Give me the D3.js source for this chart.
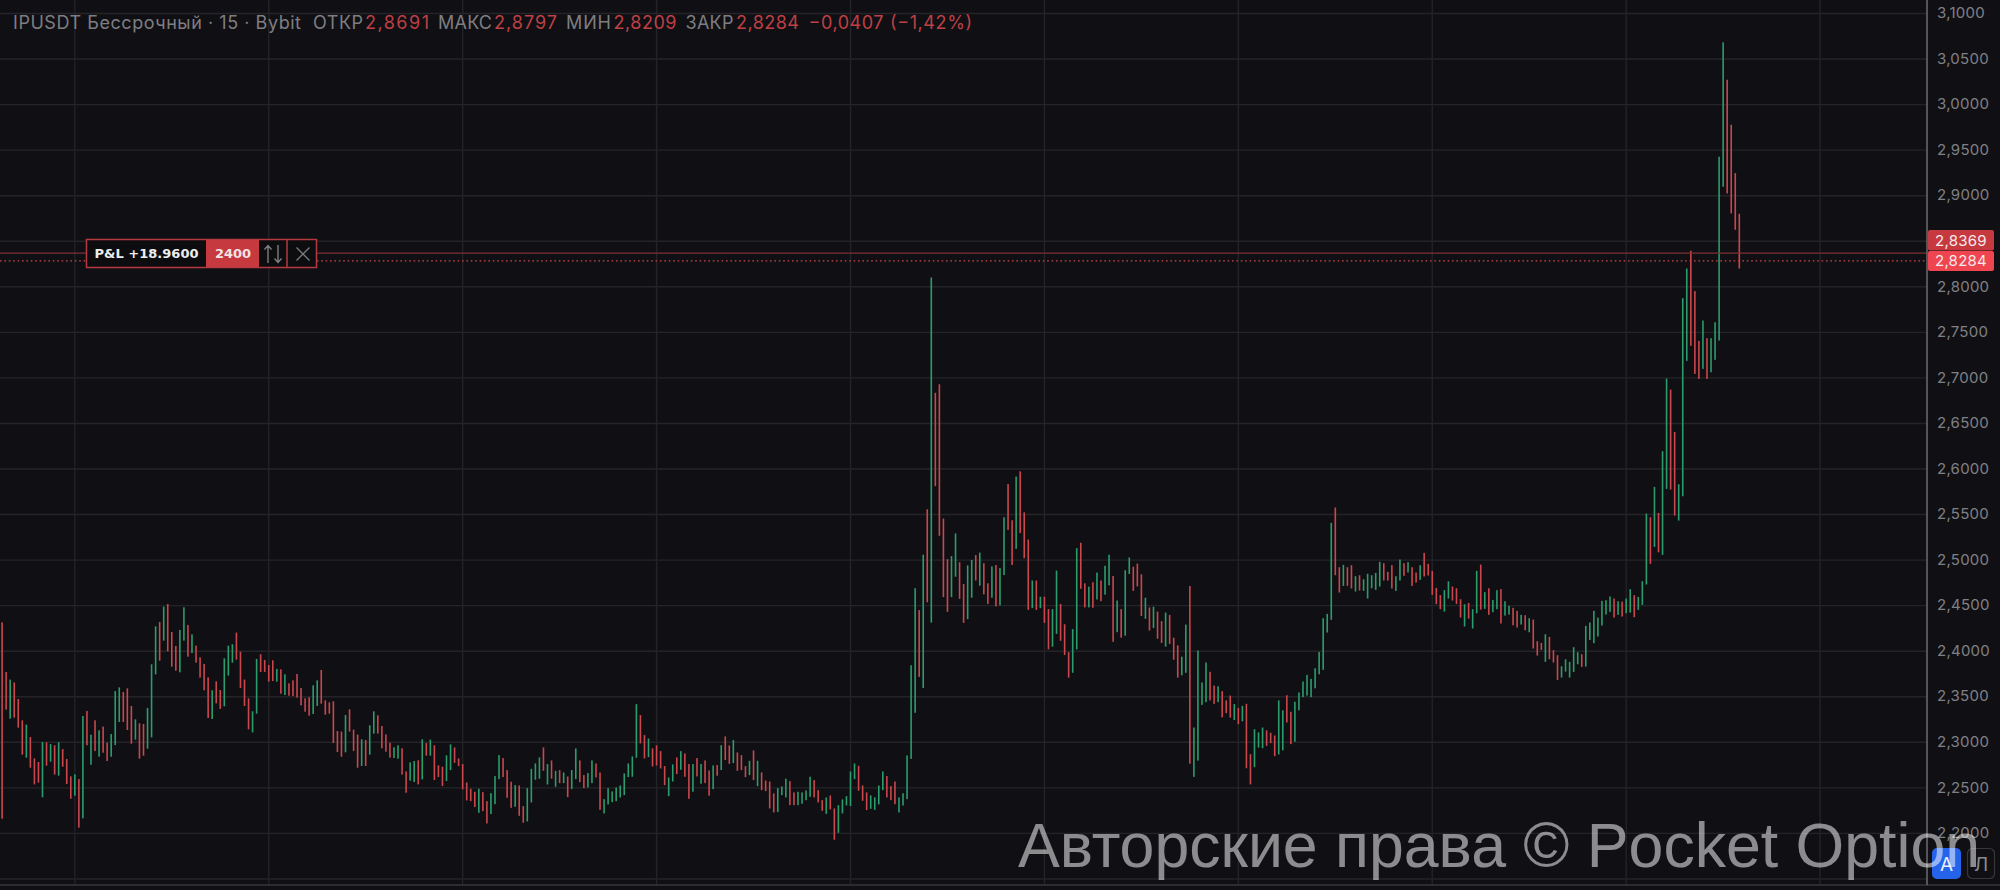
<!DOCTYPE html>
<html><head><meta charset="utf-8">
<style>html,body{margin:0;padding:0;background:#101014;overflow:hidden}svg{display:block}</style>
<script src="https://cdn.jsdelivr.net/npm/d3@7"></script></head>
<body><svg id="c" width="2000" height="890"></svg>
<script>
const highs=[
2.4317,2.3772,2.3688,2.3658,2.3475,2.3241,2.3194,2.3058,2.2824,2.2784,
2.3003,2.3000,2.2981,2.2967,2.3000,2.2926,2.2817,2.2626,2.2648,2.2597,
2.3289,2.3344,2.3084,2.3241,2.3131,2.3172,2.2996,2.3091,2.3563,2.3603,
2.3552,2.3592,2.3399,2.3252,2.3208,2.3201,2.3377,2.3856,2.4273,2.4321,
2.4489,2.4518,2.4211,2.4057,2.4233,2.4482,2.4288,2.4185,2.4061,2.3933,
2.3860,2.3713,2.3571,2.3669,2.3574,2.3922,2.4061,2.4076,2.4204,2.3995,
2.3688,2.3483,2.3340,2.3915,2.3966,2.3904,2.3849,2.3900,2.3805,2.3801,
2.3746,2.3647,2.3680,2.3750,2.3596,2.3483,2.3494,2.3625,2.3680,2.3794,
2.3461,2.3439,2.3450,2.3124,2.3117,2.3300,2.3362,2.3139,2.3084,2.3033,
2.3025,2.3186,2.3340,2.3296,2.3179,2.3087,2.2996,2.2945,2.2967,2.2934,
2.2681,2.2780,2.2795,2.2802,2.3033,2.2992,2.3029,2.2967,2.2747,2.2732,
2.2857,2.2977,2.2944,2.2823,2.2761,2.2559,2.2490,2.2457,2.2490,2.2453,
2.2354,2.2442,2.2629,2.2859,2.2827,2.2695,2.2567,2.2530,2.2526,2.2300,
2.2497,2.2709,2.2768,2.2834,2.2944,2.2761,2.2801,2.2687,2.2695,2.2669,
2.2625,2.2695,2.2933,2.2801,2.2640,2.2662,2.2801,2.2768,2.2669,2.2376,
2.2497,2.2461,2.2504,2.2526,2.2658,2.2768,2.2845,2.3419,2.3299,2.3079,
2.3042,2.2933,2.2966,2.2903,2.2739,2.2614,2.2757,2.2834,2.2903,2.2878,
2.2761,2.2761,2.2827,2.2761,2.2801,2.2691,2.2746,2.2750,2.2969,2.3064,
2.2966,2.3024,2.2889,2.2859,2.2739,2.2797,2.2911,2.2797,2.2669,2.2581,
2.2570,2.2439,2.2497,2.2515,2.2600,2.2574,2.2450,2.2457,2.2450,2.2472,
2.2622,2.2585,2.2475,2.2365,2.2395,2.2417,2.2274,2.2310,2.2373,2.2409,
2.2680,2.2768,2.2742,2.2526,2.2450,2.2417,2.2395,2.2526,2.2680,2.2629,
2.2519,2.2570,2.2395,2.2441,2.2855,2.3846,2.4692,2.4451,2.5059,2.5558,
2.8102,2.6836,2.6930,2.5456,2.5010,2.5044,2.5293,2.4976,2.4738,2.4942,
2.5002,2.5055,2.5082,2.4965,2.4745,2.4931,2.4946,2.4912,2.5471,2.5834,
2.5437,2.5917,2.5974,2.5524,2.5225,2.4776,2.4776,2.4598,2.4598,2.4462,
2.4462,2.4885,2.4519,2.4296,2.3989,2.4243,2.5131,2.5191,2.4745,2.4708,
2.4757,2.4863,2.4776,2.4938,2.5059,2.4825,2.4556,2.4462,2.4889,2.5029,
2.4927,2.4961,2.4844,2.4587,2.4481,2.4488,2.4435,2.4330,2.4424,2.4398,
2.4148,2.4065,2.3940,2.4292,2.4715,2.3162,2.4008,2.3657,2.3876,2.3774,
2.3623,2.3615,2.3562,2.3460,2.3513,2.3419,2.3377,2.3400,2.3422,2.2870,
2.3143,2.3109,2.3162,2.3131,2.3105,2.3075,2.3460,2.3351,2.3517,2.3335,
2.3445,2.3547,2.3667,2.3740,2.3696,2.3813,2.3992,2.4362,2.4410,2.5409,
2.5577,2.4922,2.4948,2.4922,2.4944,2.4823,2.4834,2.4790,2.4849,2.4834,
2.4860,2.4981,2.4966,2.4871,2.4944,2.4823,2.5006,2.4966,2.4977,2.4922,
2.4864,2.4944,2.5079,2.4959,2.4882,2.4695,2.4615,2.4670,2.4768,2.4710,
2.4691,2.4571,2.4516,2.4530,2.4461,2.4882,2.4951,2.4648,2.4691,2.4563,
2.4670,2.4681,2.4549,2.4498,2.4476,2.4443,2.4399,2.4395,2.4362,2.4347,
2.4110,2.4091,2.4186,2.4157,2.4011,2.3956,2.3835,2.3912,2.3883,2.4044,
2.3989,2.3967,2.4278,2.4315,2.4443,2.4369,2.4552,2.4560,2.4600,2.4578,
2.4549,2.4545,2.4578,2.4681,2.4615,2.4596,2.4768,2.5511,2.5470,2.5803,
2.5518,2.6195,2.6993,2.6872,2.6407,2.5833,2.7875,2.8201,2.8396,2.7953,
2.7406,2.7630,2.7436,2.7436,2.7611,2.9428,3.0683,3.0273,2.9779,2.9248,
2.8802];
const lows=[
2.2161,2.3358,2.3259,2.3270,2.3161,2.2864,2.2831,2.2721,2.2538,2.2557,
2.2396,2.2743,2.2787,2.2645,2.2634,2.2732,2.2542,2.2381,2.2414,2.2063,
2.2165,2.2967,2.2754,2.2904,2.2842,2.2886,2.2795,2.2842,2.2970,2.3223,
2.3223,2.3135,2.2985,2.3029,2.2820,2.2853,2.2930,2.3054,2.3746,2.3896,
2.4116,2.3999,2.3830,2.3786,2.3768,2.4116,2.3940,2.3980,2.3874,2.3710,
2.3571,2.3267,2.3256,2.3428,2.3366,2.3395,2.3732,2.3874,2.3907,2.3596,
2.3399,2.3142,2.3109,2.3314,2.3772,2.3772,2.3666,2.3673,2.3666,2.3534,
2.3519,2.3512,2.3508,2.3490,2.3406,2.3336,2.3292,2.3311,2.3399,2.3424,
2.3303,2.3314,2.2992,2.2893,2.2842,2.2890,2.3117,2.2904,2.2721,2.2740,
2.2740,2.2864,2.3095,2.3095,2.2934,2.2897,2.2831,2.2828,2.2820,2.2645,
2.2447,2.2579,2.2564,2.2538,2.2593,2.2853,2.2853,2.2586,2.2619,2.2520,
2.2575,2.2695,2.2775,2.2739,2.2483,2.2362,2.2354,2.2289,2.2226,2.2245,
2.2109,2.2212,2.2321,2.2596,2.2618,2.2391,2.2281,2.2292,2.2193,2.2117,
2.2131,2.2340,2.2589,2.2600,2.2687,2.2537,2.2600,2.2512,2.2552,2.2552,
2.2398,2.2486,2.2596,2.2563,2.2497,2.2504,2.2552,2.2614,2.2259,2.2219,
2.2318,2.2343,2.2354,2.2395,2.2420,2.2618,2.2622,2.2830,2.2988,2.2823,
2.2838,2.2735,2.2746,2.2713,2.2530,2.2409,2.2570,2.2651,2.2698,2.2622,
2.2380,2.2457,2.2625,2.2545,2.2552,2.2413,2.2486,2.2633,2.2695,2.2805,
2.2764,2.2772,2.2687,2.2695,2.2618,2.2640,2.2585,2.2519,2.2475,2.2464,
2.2274,2.2230,2.2234,2.2420,2.2395,2.2310,2.2310,2.2310,2.2325,2.2365,
2.2402,2.2395,2.2340,2.2248,2.2215,2.2263,2.1930,2.2007,2.2219,2.2307,
2.2300,2.2596,2.2468,2.2358,2.2256,2.2270,2.2259,2.2318,2.2475,2.2395,
2.2365,2.2321,2.2230,2.2306,2.2376,2.2818,2.3324,2.3717,2.3596,2.4537,
2.4314,2.5811,2.5267,2.4594,2.4432,2.4594,2.4817,2.4575,2.4311,2.4352,
2.4587,2.4776,2.4719,2.4624,2.4519,2.4587,2.4492,2.4503,2.4836,2.5331,
2.4946,2.5123,2.5297,2.5021,2.4454,2.4473,2.4454,2.4473,2.4311,2.4020,
2.4050,2.4190,2.4114,2.3959,2.3710,2.3763,2.4020,2.4685,2.4481,2.4481,
2.4477,2.4568,2.4549,2.4621,2.4723,2.4103,2.4209,2.4148,2.4171,2.4847,
2.4662,2.4711,2.4386,2.4356,2.4227,2.4254,2.4137,2.4091,2.4050,2.4080,
2.3906,2.3710,2.3736,2.3763,2.2765,2.2621,2.2799,2.3411,2.3441,2.3460,
2.3422,2.3441,2.3275,2.3320,2.3271,2.3245,2.3199,2.3230,2.2715,2.2538,
2.2727,2.2942,2.2935,2.2961,2.2991,2.2848,2.2867,2.2912,2.3218,2.2980,
2.3007,2.3351,2.3495,2.3513,2.3495,2.3593,2.3747,2.3795,2.4205,2.4344,
2.4834,2.4644,2.4717,2.4717,2.4688,2.4655,2.4666,2.4662,2.4578,2.4691,
2.4673,2.4710,2.4776,2.4776,2.4688,2.4662,2.4776,2.4827,2.4864,2.4717,
2.4754,2.4783,2.4820,2.4831,2.4618,2.4516,2.4461,2.4435,2.4578,2.4556,
2.4519,2.4369,2.4271,2.4358,2.4249,2.4417,2.4457,2.4465,2.4399,2.4428,
2.4461,2.4304,2.4391,2.4402,2.4285,2.4260,2.4293,2.4230,2.4208,2.4029,
2.3952,2.4014,2.3883,2.3912,2.3875,2.3685,2.3711,2.3776,2.3711,2.3773,
2.3857,2.3828,2.3831,2.4124,2.4088,2.4161,2.4282,2.4402,2.4432,2.4369,
2.4399,2.4380,2.4417,2.4424,2.4373,2.4454,2.4508,2.4732,2.4958,2.5145,
2.5086,2.5057,2.5781,2.5774,2.5489,2.5434,2.5701,2.7187,2.7352,2.7044,
2.6989,2.7099,2.6989,2.7062,2.7198,2.7410,2.9098,2.9025,2.8805,2.8626,
2.8201];
const candleColors=(
"rrgrrrgrrr"+"grgrgrrrgr"+"grgrgrrggg"+"rrrgrrgggr"+"grrrggrgrr"+
"rrgrrgggrr"+"rrggrrrrgr"+"grrrrrrggr"+"rrrrrgrrrg"+"rggrrrrggr"+
"rggrgrgrrr"+"ggrrrrrrgr"+"rgggrrrgrr"+"ggggrgrgrg"+"rggrrggrrg"+
"ggggggggrr"+"grrrrggrgr"+"rgrgrrgrgr"+"rgrrrgrgrr"+"rrgggrrggg"+
"grrrgrrggg"+"ggrrrggggr"+"rrgggggrgr"+"grrrrggrrg"+"grgrrgrggr"+
"rgrrrgrgrr"+"ggrrrggrrg"+"rgrggrgrgg"+"rrrgrgrrgr"+"rrggrggggr"+
"rgrrrgrgrr"+"gggrrrggrr"+"gggggggggg"+"rrgrrgrggg"+"ggrrrggrgr"+
"rgrrrrrggr"+"rrgrggrgrg"+"grggrrgrgr"+"rrgrrrgggg"+"grgggggggr"+
"grggrgggrg"+"rggrrgggrr"+"rgrggggrrr"+"r").split("");
const priceTicks=[2.15,2.2,2.25,2.3,2.35,2.4,2.45,2.5,2.55,2.6,2.65,2.7,2.75,2.8,2.85,2.9,2.95,3.0,3.05,3.1];
const hiddenLabels=[2.15,2.85];
const timeGridBars=[18,66,114,162,210,258,306,354,402,450];
const entryPrice=2.8369, lastPrice=2.8284;
const headerTexts=["IPUSDT Бессрочный · 15 · Bybit","ОТКР","2,8691","МАКС","2,8797","МИН","2,8209","ЗАКР","2,8284","−0,0407","(−1,42%)"];
const headerTones=["g","g","r","g","r","g","r","g","r","r","r"];
const headerLeft=[13,313,365,438,494,566,613.5,685.5,736,808.5,890];
const headerWidth=[288,50,64,54,63,45,63,48,63,75,82];

const W=2000,H=890,axisX=1927;
const BG="#101014",GRID="#232328",UP="#2c9c6c",DOWN="#c9474d",TXT="#808084";
const svg=d3.select("#c");
const fmt=v=>d3.format(".4f")(v).replace(".",",");
const y=d3.scaleLinear().domain([3.1,2.2]).range([13.5,833.4]);
const x=d3.scaleLinear().domain([0,430]).range([2.1,1739.3]);

svg.append("rect").attr("width",W).attr("height",H).attr("fill",BG);

// grid
svg.append("g").selectAll("line").data(timeGridBars).join("line")
 .attr("x1",d=>x(d)).attr("x2",d=>x(d)).attr("y1",0).attr("y2",885)
 .attr("stroke",GRID).attr("stroke-width",1.4);
svg.append("g").selectAll("line").data(priceTicks).join("line")
 .attr("x1",0).attr("x2",axisX).attr("y1",d=>y(d)).attr("y2",d=>y(d))
 .attr("stroke",GRID).attr("stroke-width",1.4);

// candles
svg.append("g").selectAll("rect").data(highs.map((h,i)=>({i,h,l:lows[i],c:candleColors[i]}))).join("rect")
 .attr("x",d=>x(d.i)-0.8).attr("width",1.6)
 .attr("y",d=>y(d.h)).attr("height",d=>y(d.l)-y(d.h))
 .attr("fill",d=>d.c==="g"?UP:DOWN);

// price lines
svg.append("line").attr("x1",0).attr("x2",axisX).attr("y1",y(entryPrice)).attr("y2",y(entryPrice))
 .attr("stroke","#7d3034").attr("stroke-width",1.2);
svg.append("line").attr("x1",0).attr("x2",axisX).attr("y1",y(lastPrice)).attr("y2",y(lastPrice))
 .attr("stroke","#c9474d").attr("stroke-width",1.3).attr("stroke-dasharray","1.6 2.8");

// axis
const axis=d3.axisRight(y).tickValues(priceTicks.filter(t=>!hiddenLabels.includes(t))).tickSize(0).tickPadding(10).tickFormat(fmt);
const ga=svg.append("g").attr("transform",`translate(${axisX},0)`).call(axis);
ga.select(".domain").remove();
ga.selectAll("text").attr("fill",TXT).attr("font-family","Inter").attr("font-size",15).attr("letter-spacing",0.25).attr("dy","0.28em");
svg.append("line").attr("x1",0).attr("x2",W).attr("y1",885).attr("y2",885).attr("stroke","#34343a").attr("stroke-width",1.4);
svg.append("line").attr("x1",axisX).attr("x2",axisX).attr("y1",0).attr("y2",885).attr("stroke","#66666c").attr("stroke-width",1.6);

// price tags
[[entryPrice,230,20.5,"#c5393f"],[lastPrice,251,20,"#ef4550"]].forEach(([p,t,h,c])=>{
 svg.append("rect").attr("x",1928).attr("y",t).attr("width",66).attr("height",h).attr("rx",2).attr("fill",c);
 svg.append("text").attr("x",1961).attr("y",t+h/2).attr("dy","0.35em").attr("text-anchor","middle")
  .attr("fill","#f6eaea").attr("font-family","Inter").attr("font-size",15).attr("letter-spacing",0.25).text(fmt(p));
});

// header
svg.append("g").selectAll("text").data(headerTexts).join("text")
 .attr("x",(d,i)=>headerLeft[i]).attr("y",23).attr("dy","0.36em").attr("font-family","Inter").attr("font-size",18)
 .attr("textLength",(d,i)=>headerWidth[i]).attr("lengthAdjust","spacing")
 .attr("fill",(d,i)=>headerTones[i]==="g"?"#7e7e82":"#bf3f45").text(d=>d);

// position widget
const wg=svg.append("g");
wg.append("rect").attr("x",86.5).attr("y",239.5).attr("width",230).attr("height",28).attr("fill","#0d0d10").attr("stroke","#b23a40").attr("stroke-width",1.5);
wg.append("rect").attr("x",206).attr("y",240).attr("width",53).attr("height",27).attr("fill","#c5393f");
wg.append("line").attr("x1",287).attr("x2",287).attr("y1",240).attr("y2",267).attr("stroke","#b23a40").attr("stroke-width",1.5);
wg.append("text").attr("x",94.5).attr("y",253.5).attr("dy","0.36em").attr("fill","#eeeeee").attr("font-family","DejaVu Sans").attr("font-weight",700).attr("font-size",13).attr("textLength",104).text("P&L +18.9600");
wg.append("text").attr("x",233).attr("y",253.5).attr("dy","0.36em").attr("text-anchor","middle").attr("fill","#f3e4e4").attr("font-family","DejaVu Sans").attr("font-weight",700).attr("font-size",13).text("2400");
const icon="#7e7e82";
wg.append("path").attr("d","M268 263V246M264.5 249.5L268 245.5L271.5 249.5M278 245V262M274.5 258.5L278 262.5L281.5 258.5").attr("fill","none").attr("stroke",icon).attr("stroke-width",1.4);
wg.append("path").attr("d","M296.5 247.5L309.5 260.5M309.5 247.5L296.5 260.5").attr("fill","none").attr("stroke",icon).attr("stroke-width",1.3);

// buttons
svg.append("rect").attr("x",1932).attr("y",848).attr("width",29).attr("height",31).attr("rx",5).attr("fill","#2563eb");
svg.append("text").attr("x",1946.5).attr("y",864).attr("dy","0.36em").attr("text-anchor","middle").attr("fill","#e8eefc").attr("font-family","Inter").attr("font-size",19).text("А");
svg.append("rect").attr("x",1967.5).attr("y",848.5).attr("width",27).attr("height",30).attr("rx",5).attr("fill","none").attr("stroke","#36363b").attr("stroke-width",1.2);
svg.append("text").attr("x",1981).attr("y",864).attr("dy","0.36em").attr("text-anchor","middle").attr("fill","#8a8a8e").attr("font-family","Inter").attr("font-size",19).text("Л");

// watermark
svg.append("text").attr("x",1018).attr("y",867).attr("fill","#ffffff").attr("fill-opacity",0.52)
 .attr("font-family","Liberation Sans").attr("font-size",62.6).text("Авторские права © Pocket Option");
</script>
</body></html>
